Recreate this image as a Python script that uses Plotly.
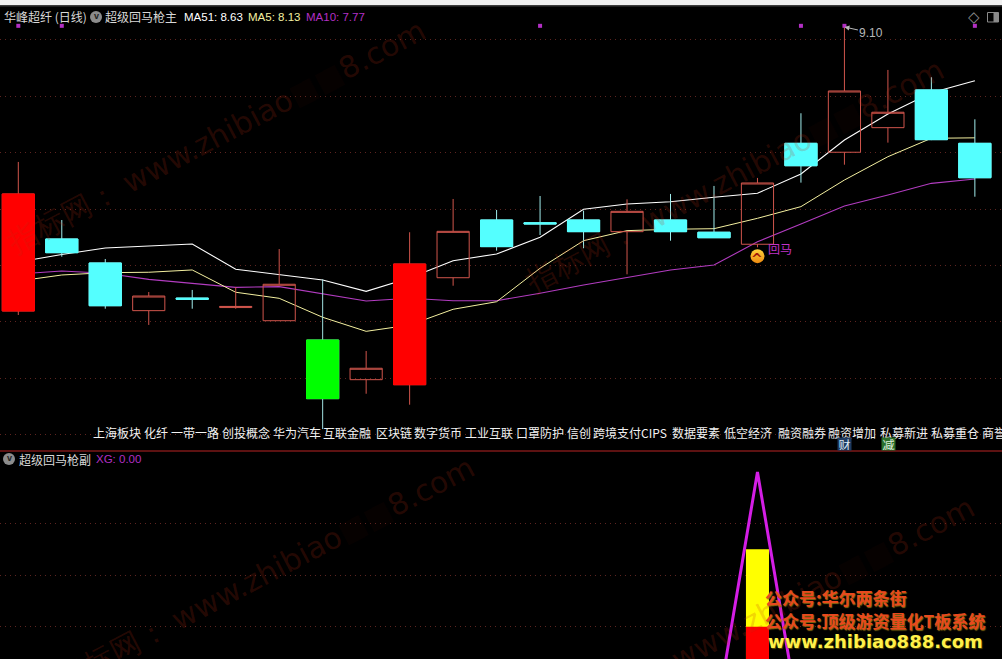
import plotly.graph_objects as go

W, H = 1002, 659

# ---------- data ----------
idx = list(range(23))
style = ["F","C","C","H","C","H","H","G","H","F","H","C","C","C","H","C","C","H","C","H","H","C","C"]
opens = [6.615,7.245,7.035,6.618,6.728,6.645,6.530,6.361,6.014,5.970,6.906,7.411,7.387,7.411,7.309,7.411,7.304,7.199,8.082,8.004,8.219,8.549,8.082]
closes = [7.639,7.125,6.661,6.746,6.718,6.655,6.849,5.848,6.114,7.026,7.312,7.178,7.377,7.309,7.487,7.309,7.256,7.735,7.886,8.540,8.354,8.114,7.781]
highs = [7.919,7.411,7.070,6.781,6.799,6.825,7.157,6.892,6.265,7.304,7.595,7.499,7.621,7.493,7.592,7.639,7.709,7.779,8.345,9.100,8.724,8.660,8.292]
lows = [6.580,7.090,6.635,6.493,6.635,6.635,6.530,5.582,5.891,5.795,6.836,7.143,7.280,7.164,6.936,7.230,7.256,7.172,7.738,7.895,8.088,8.110,7.615]
ma51 = [7.044,7.109,7.166,7.184,7.201,6.980,6.930,6.886,6.787,6.904,7.055,7.114,7.260,7.505,7.551,7.571,7.610,7.645,7.814,8.111,8.339,8.525,8.630]
ma5 = [6.877,6.930,6.950,6.954,6.974,6.779,6.726,6.560,6.437,6.492,6.630,6.696,6.989,7.230,7.318,7.330,7.335,7.426,7.528,7.761,7.965,8.126,8.130]
ma10 = [6.939,6.965,6.945,6.892,6.857,6.822,6.828,6.764,6.702,6.726,6.705,6.705,6.770,6.842,6.910,6.974,7.017,7.221,7.376,7.534,7.630,7.732,7.770]
flag_idx = [0, 1, 12, 18, 19, 22]
flag_level = 9.11
signal_idx = 17
signal_level = 7.095
main_grid = [8.992, 8.494, 8.004, 7.505, 7.015, 6.525, 6.026, 5.536]
xg = [0,0,0,0,0,0,0,0,0,0,0,0,0,0,0,0,0,1,0,0,0,0,0]
bar_yellow = [0,0,0,0,0,0,0,0,0,0,0,0,0,0,0,0,0,0.70,0,0,0,0,0]
bar_red = [0,0,0,0,0,0,0,0,0,0,0,0,0,0,0,0,0,0.40,0,0,0,0,0]
sub_grid = [0.4, 0.6, 0.8]
tags = ["上海板块","化纤","一带一路","创投概念","华为汽车","互联金融","区块链","数字货币","工业互联","口罩防护","信创","跨境支付CIPS","数据要素","低空经济","融资融券","融资增加","私募新进","私募重仓","商誉"]

# ---------- layout helpers ----------
tag_px = [93,144,171,222,273,323,376,414,465,516,567,593,672,724,778,828,880,931,982]
def fx(x): return x / W
def fy(y): return 1 - y / H
XR = [-0.421, 22.624]
YR_MAIN = [5.39, 9.336]
YR_SUB = [0.275, 1.0775]
CJK = "Noto Sans CJK SC"
LAT = "Liberation Sans"
GRID = "#5e2420"
RED_L = "#d0554c"
CYAN = "#54ffff"
PURP = "#b22fc4"

fig = go.Figure()

for vals, col, w in [(ma10, "#b23cc0", 1.1), (ma5, "#f4f0a0", 1.0), (ma51, "#ffffff", 1.1)]:
    fig.add_trace(go.Scatter(x=idx, y=vals, mode="lines", line=dict(color=col, width=w),
                             xaxis="x", yaxis="y", showlegend=False, hoverinfo="skip"))

def candles(code, line_col, fill, use_wick=True):
    sel = [i for i in idx if style[i] == code]
    hi = [highs[i] if use_wick else max(opens[i], closes[i]) for i in sel]
    lo = [lows[i] if use_wick else min(opens[i], closes[i]) for i in sel]
    side = dict(line=dict(color=line_col, width=1), fillcolor=fill)
    fig.add_trace(go.Candlestick(x=sel, open=[opens[i] for i in sel], close=[closes[i] for i in sel],
                                 high=hi, low=lo, increasing=side, decreasing=side,
                                 whiskerwidth=0, xaxis="x", yaxis="y3", showlegend=False, hoverinfo="skip"))

candles("H", RED_L, "rgba(0,0,0,0)")
candles("F", RED_L, "#ff0000")
candles("F", "#ff0000", "#ff0000", use_wick=False)
candles("C", "#a0ecec", CYAN)
candles("C", CYAN, CYAN, use_wick=False)
candles("G", "#a0e0e0", "#00ff00")
candles("G", "#00ff00", "#00ff00", use_wick=False)

fig.add_trace(go.Scatter(x=flag_idx, y=[flag_level] * len(flag_idx), mode="markers",
                         marker=dict(symbol="square", size=4, color=PURP),
                         xaxis="x", yaxis="y3", showlegend=False, hoverinfo="skip"))
fig.add_trace(go.Scatter(x=[signal_idx], y=[signal_level], mode="markers",
                         marker=dict(symbol="circle", size=14, color="#ffd23c",
                                     gradient=dict(type="vertical", color="#ee8a10"), line=dict(width=0)),
                         xaxis="x", yaxis="y3", showlegend=False, hoverinfo="skip"))

fig.add_trace(go.Bar(x=idx, y=bar_yellow, marker=dict(color="#ffff00", line=dict(width=0)), width=0.53,
                     xaxis="x2", yaxis="y2", showlegend=False, hoverinfo="skip"))
fig.add_trace(go.Bar(x=idx, y=bar_red, marker=dict(color="#ff0000", line=dict(width=0)), width=0.53,
                     xaxis="x2", yaxis="y2", showlegend=False, hoverinfo="skip"))
fig.add_trace(go.Scatter(x=idx, y=xg, mode="lines", line=dict(color="#d41ee6", width=3),
                         xaxis="x2", yaxis="y2", showlegend=False, hoverinfo="skip"))

ann = []
def label(x, y, text, color, size=12, family=CJK, anchor="left", **kw):
    ann.append(dict(x=fx(x - 1 if anchor == "left" else x), y=fy(y), xref="paper", yref="paper", text=text, showarrow=False,
                    xanchor=anchor, yanchor="middle", font=dict(color=color, size=size, family=family, **kw),
                    borderpad=0))

# watermark
wm = ("指标网： www.zhibiao<span style='color:rgba(110,30,10,0.3)'>■■</span>8.com")
WMC = "rgba(190,45,20,0.2)"
for cx, cy, t in [(216, 136, wm), (735, 176, wm), (265, 573, wm), (765, 613, wm)]:
    ann.append(dict(x=fx(cx), y=fy(cy), xref="paper", yref="paper", text=t, showarrow=False, textangle=-27.7,
                    xanchor="center", yanchor="middle", font=dict(color=WMC, size=30, family="DejaVu Sans")))

# header text
label(4, 17, "华峰超纤 (日线)", "#d8d8d8")
label(105, 17, "超级回马枪主", "#d8d8d8")
label(184, 17, "MA51: 8.63", "#ffffff", size=11.5, family=LAT)
label(248, 17, "MA5: 8.13", "#f4f0a0", size=11.5, family=LAT)
label(306, 17, "MA10: 7.77", PURP, size=11.5, family=LAT)
label(19, 459, "超级回马枪副", "#d8d8d8")
label(96, 459, "XG: 0.00", PURP, size=11.5, family=LAT)
label(96, 16, "<b>v</b>", "#222222", size=9, family=LAT, anchor="center")
label(9, 458, "<b>v</b>", "#222222", size=9, family=LAT, anchor="center")
label(974, 17, "◇", "#8a8a8a", size=15, family="DejaVu Sans", anchor="center")

for t, x in zip(tags, tag_px):
    label(x, 432.5, t, "#f2f2f2")

# badges
ann.append(dict(x=fx(844.5), y=fy(444), xref="paper", yref="paper", text="财", showarrow=False,
                xanchor="center", yanchor="middle", height=12, width=13, valign="middle",
                font=dict(color="#dfe8f5", size=12, family=CJK), bgcolor="#1d3a60", borderpad=0))
ann.append(dict(x=fx(888.5), y=fy(444), xref="paper", yref="paper", text="减", showarrow=False,
                xanchor="center", yanchor="middle", height=12, width=13, valign="middle",
                font=dict(color="#e0f0e0", size=12, family=CJK), bgcolor="#2a6e2a", borderpad=0))

# signal label
label(768, 248, "回马", "#c232c8")
ann.append(dict(x=signal_idx, y=signal_level, xref="x", yref="y3", text="<b>^</b>", showarrow=False, yshift=-3,
                font=dict(color="#a01808", size=14, family="DejaVu Sans")))

# high label
ann.append(dict(x=19, y=9.10, xref="x", yref="y3", text="9.10", showarrow=True, ax=27, ay=6,
                arrowcolor="#b8b8b8", arrowwidth=1, arrowhead=2, arrowsize=1,
                font=dict(color="#b8b8b8", size=12, family=LAT)))

# promo text
label(765, 597, "<b>公众号:华尔两条街</b>", "#e8491e", size=17, shadow="1px 1px 1px #8a6a10")
label(765, 620, "<b>公众号:顶级游资量化T板系统</b>", "#e8491e", size=17, shadow="1px 1px 1px #8a6a10")
label(768, 641, "<b>www.zhibiao888.com</b>", "#fff04a", size=18, family="DejaVu Sans", shadow="1px 1px 1px #5a4a00")

shapes = [
    dict(type="rect", xref="paper", yref="paper", x0=0, x1=1, y0=fy(5), y1=1, fillcolor="#f0f0f0", line_width=0),
    dict(type="rect", xref="paper", yref="paper", x0=0, x1=1, y0=fy(6.5), y1=fy(5), fillcolor="#3c3c3c", line_width=0),
    dict(type="line", xref="paper", yref="paper", x0=0, x1=1, y0=fy(451), y1=fy(451), line=dict(color="#7c1818", width=1.5)),
    dict(type="circle", xref="paper", yref="paper", x0=fx(90), x1=fx(102), y0=fy(23), y1=fy(11), fillcolor="#8c8c8c", line_width=0, layer="below"),
    dict(type="circle", xref="paper", yref="paper", x0=fx(3), x1=fx(15), y0=fy(465), y1=fy(453), fillcolor="#8c8c8c", line_width=0, layer="below"),
    dict(type="rect", xref="paper", yref="paper", x0=fx(987.5), x1=fx(998.5), y0=fy(22), y1=fy(12.5), line=dict(color="#8a8a8a", width=1)),
    dict(type="rect", xref="paper", yref="paper", x0=fx(993.5), x1=fx(998.5), y0=fy(22), y1=fy(12.5), fillcolor="#8a8a8a", line_width=0),
]

grid_kw = dict(showgrid=True, gridcolor=GRID, griddash="1px 4px", gridwidth=1, zeroline=False, showticklabels=False, ticks="", showline=False)
fig.update_layout(
    width=W, height=H, autosize=False, margin=dict(l=0, r=0, t=0, b=0, pad=0),
    paper_bgcolor="#000000", plot_bgcolor="#000000", showlegend=False, barmode="overlay",
    boxgap=0.26, boxgroupgap=0, hovermode=False, dragmode=False,
    xaxis=dict(domain=[0, 1], range=XR, visible=False, fixedrange=True, rangeslider=dict(visible=False), anchor="y"),
    yaxis=dict(domain=[fy(451), 1], range=YR_MAIN, tickmode="array", tickvals=main_grid, fixedrange=True, **grid_kw),
    yaxis3=dict(domain=[fy(451), 1], range=YR_MAIN, overlaying="y", visible=False, fixedrange=True),
    xaxis2=dict(domain=[0, 1], range=XR, visible=False, fixedrange=True, anchor="y2"),
    yaxis2=dict(domain=[0, fy(452)], range=YR_SUB, tickmode="array", tickvals=sub_grid, fixedrange=True, anchor="x2", **grid_kw),
    annotations=ann, shapes=shapes,
)

fig.write_html("out.html", config=dict(displayModeBar=False),
               post_script="document.body.style.margin='0';document.body.style.background='#000';document.body.style.overflow='hidden';")
